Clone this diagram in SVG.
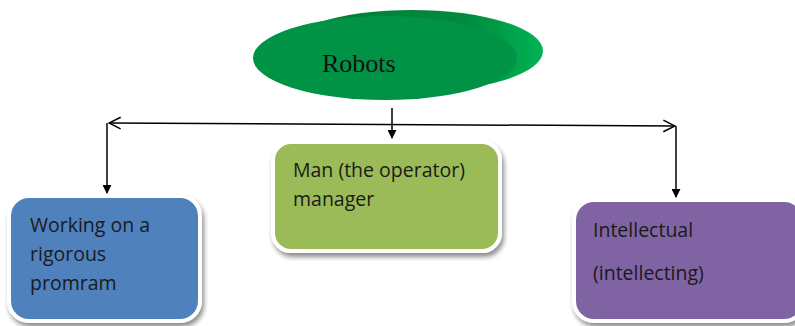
<svg xmlns="http://www.w3.org/2000/svg" width="795" height="326" viewBox="0 0 795 326">
  <defs>
    <filter id="shadow" x="-10%" y="-10%" width="125%" height="130%">
      <feGaussianBlur in="SourceAlpha" stdDeviation="2.5"/>
      <feOffset dx="2" dy="4" result="b"/>
      <feComponentTransfer><feFuncA type="linear" slope="0.45"/></feComponentTransfer>
      <feMerge><feMergeNode/><feMergeNode in="SourceGraphic"/></feMerge>
    </filter>
    <linearGradient id="rim" x1="0" y1="0" x2="1" y2="0">
      <stop offset="0" stop-color="#007a36"/>
      <stop offset="0.7" stop-color="#008a3e"/>
      <stop offset="1" stop-color="#00b354"/>
    </linearGradient>
    <marker id="solid" viewBox="0 0 10 10" refX="9" refY="5" markerWidth="9" markerHeight="9" markerUnits="userSpaceOnUse" orient="auto">
      <path d="M0,0 L10,5 L0,10 z" fill="#000"/>
    </marker>
    <marker id="open" viewBox="0 0 12 12" refX="11" refY="6" markerWidth="14" markerHeight="14" markerUnits="userSpaceOnUse" orient="auto-start-reverse">
      <path d="M1,1 L11,6 L1,11" fill="none" stroke="#000" stroke-width="1.3"/>
    </marker>
  </defs>
  <style>
    .box { stroke: #ffffff; stroke-width: 4; filter: url(#shadow); }
    .label { font-family: "Open Sans", "Liberation Sans", sans-serif; font-size: 19.5px; fill: #1a1a1a; }
    .line { stroke: #000; stroke-width: 1.5; fill: none; }
  </style>

  <rect width="795" height="326" fill="#ffffff"/>

  <!-- top ellipse with a raised rim -->
  <g id="robots">
    <ellipse cx="412" cy="51" rx="131" ry="41" fill="url(#rim)"/>
    <ellipse cx="385" cy="58" rx="132" ry="42" fill="#009245"/>
    <text x="322" y="72" font-family="'Liberation Serif', serif" font-size="26" fill="#111">Robots</text>
  </g>

  <!-- connectors -->
  <g id="connectors">
    <line class="line" x1="392" y1="108" x2="392" y2="138" marker-end="url(#solid)"/>
    <line class="line" x1="109" y1="123" x2="675" y2="126" marker-start="url(#open)" marker-end="url(#open)"/>
    <line class="line" x1="107" y1="123" x2="107" y2="193" marker-end="url(#solid)"/>
    <line class="line" x1="676" y1="126" x2="676" y2="197" marker-end="url(#solid)"/>
  </g>

  <g id="rigorous">
    <rect class="box" x="9" y="196" width="191" height="125" rx="20" fill="#4f81bd"/>
    <text class="label" x="30" y="232">Working on a</text>
    <text class="label" x="30" y="261">rigorous</text>
    <text class="label" x="30" y="290">promram</text>
  </g>

  <g id="operator">
    <rect class="box" x="273" y="142" width="227" height="109" rx="18" fill="#9bbb59"/>
    <text class="label" x="293" y="177">Man (the operator)</text>
    <text class="label" x="293" y="206">manager</text>
  </g>

  <g id="intellectual">
    <rect class="box" x="574" y="200" width="230" height="121" rx="20" fill="#8064a2"/>
    <text class="label" x="593" y="237">Intellectual</text>
    <text class="label" x="593" y="280">(intellecting)</text>
  </g>
</svg>
